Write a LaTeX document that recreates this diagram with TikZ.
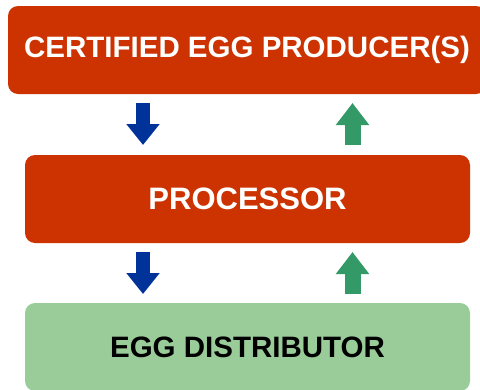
\documentclass[tikz,border=0pt]{standalone}
\usepackage{fontspec}
\setmainfont{Liberation Sans}
\usetikzlibrary{arrows.meta}
\definecolor{boxred}{HTML}{CC3300}
\definecolor{boxgreen}{HTML}{99CC99}
\definecolor{arrblue}{HTML}{003399}
\definecolor{arrgreen}{HTML}{339966}
\begin{document}
\begin{tikzpicture}[x=1pt,y=-1pt,
  stage/.style={rectangle,rounded corners=10pt,inner sep=0pt,outer sep=0pt,
                minimum height=88pt,align=center,font=\bfseries\fontsize{29.5}{32}\selectfont},
  downarr/.style={arrblue,line width=14pt,-{Triangle[length=21pt,width=32pt]}},
  uparr/.style={arrgreen,line width=16pt,-{Triangle[length=22pt,width=32pt]}}]
\clip (0,0) rectangle (480,389);

\node at (247,50) [stage,fill=boxred,text=white,minimum width=478pt] (producer) {CERTIFIED EGG PRODUCER(S)};
\node at (247.5,199) [stage,fill=boxred,text=white,minimum width=445pt,
                      font=\bfseries\fontsize{31}{34}\selectfont] (processor) {PROCESSOR};
\node at (247.5,347) [stage,fill=boxgreen,text=black,minimum width=445pt] (distributor) {EGG DISTRIBUTOR};

\coordinate (dcol) at (143,0);
\coordinate (ucol) at (352.5,0);

\draw[downarr,shorten <=9pt,shorten >=10pt] (producer.south -| dcol) -- (processor.north -| dcol);
\draw[uparr,shorten <=10pt,shorten >=9pt] (processor.north -| ucol) -- (producer.south -| ucol);
\draw[downarr,shorten <=9pt,shorten >=9pt] (processor.south -| dcol) -- (distributor.north -| dcol);
\draw[uparr,shorten <=9pt,shorten >=9pt] (distributor.north -| ucol) -- (processor.south -| ucol);
\end{tikzpicture}
\end{document}
